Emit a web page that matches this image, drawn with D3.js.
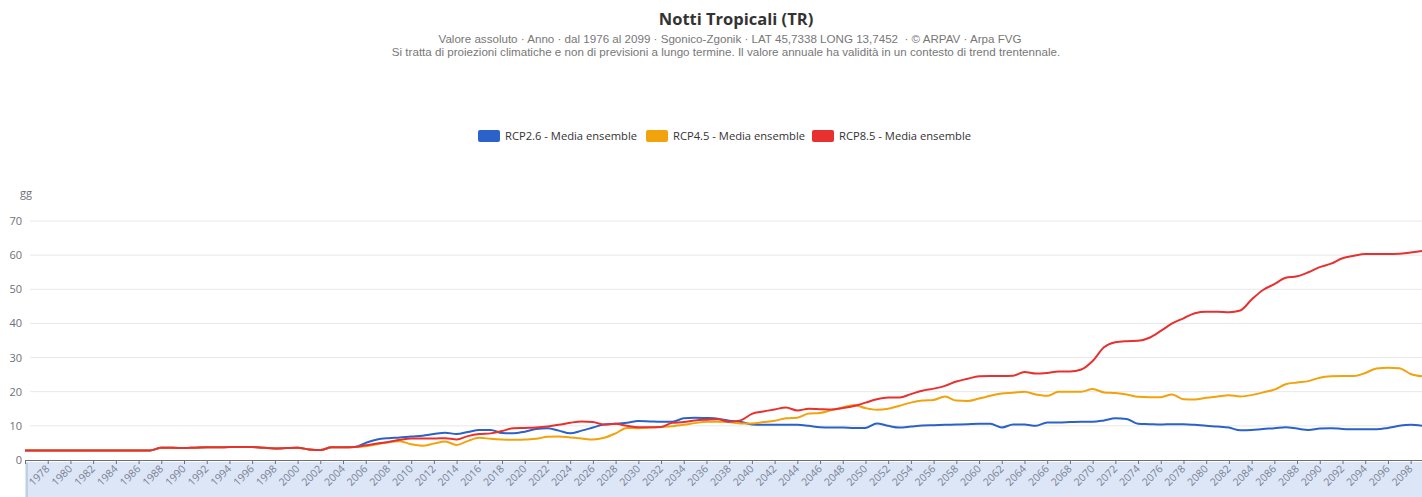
<!DOCTYPE html>
<html><head><meta charset="utf-8">
<script src="https://cdn.jsdelivr.net/npm/d3@7"></script>
<style>
html,body{margin:0;padding:0;background:#fff;}
svg{display:block;font-family:"Open Sans","Noto Sans",sans-serif;}
</style></head>
<body><svg id="c" width="1422" height="497"></svg>
<script>
const startYear = 1976, endYear = 2099;
const years = d3.range(startYear, endYear + 1);
const early = [2.8,2.8,2.8,2.8,2.8,2.8,2.8,2.8,2.8,2.8,2.8,2.8, // 1976-1987
  3.6,3.6,3.5,3.6,3.7,3.7,3.8,3.8,3.8,3.6,3.4,3.5,3.6,3.1,2.9,3.7,3.7,3.8]; // 1988-2005
const rcp26Late = [5.0,6.0,6.4,6.6,6.9,7.1,7.6,8.0,7.6,8.2,8.8,8.8,7.9,7.8,8.3,9.1,9.3,8.6,7.8,8.6, // 2006-2025
  9.5,10.4,10.6,10.9,11.4,11.3,11.2,11.2,12.2,12.4,12.3,12.1,11.5,11.2,10.4,10.3,10.3,10.3,10.3,10.0, // 2026-2045
  9.6,9.5,9.5,9.4,9.4,10.7,10.0,9.5,9.8,10.1,10.2,10.3,10.4,10.5,10.6,10.6,9.5,10.4,10.4,10.0, // 2046-2065
  11.0,11.0,11.1,11.2,11.2,11.6,12.2,12.0,10.6,10.5,10.4,10.5,10.5,10.3,10.0,9.8,9.5,8.7,8.8,9.1, // 2066-2085
  9.3,9.6,9.2,8.8,9.2,9.3,9.1,9.0,9.0,9.0,9.4,10.0,10.3,10.0]; // 2086-2099
const rcp45Late = [4.0,4.6,5.2,5.5,4.6,4.2,4.8,5.4,4.4,5.6,6.5,6.2,6.0,5.9,6.0,6.2,6.8,6.9,6.6,6.3, // 2006-2025
  6.0,6.5,7.8,9.4,9.3,9.5,9.7,9.9,10.3,10.8,11.2,11.2,11.1,10.7,10.7,11.1,11.5,12.2,12.4,13.6, // 2026-2045
  13.8,14.6,15.4,16.1,15.2,14.7,15.0,15.9,16.8,17.4,17.6,18.6,17.4,17.3,18.0,18.8,19.5,19.7,20.0,19.2, // 2046-2065
  18.8,20.0,20.0,20.0,20.8,19.8,19.6,19.2,18.5,18.4,18.4,19.2,17.8,17.7,18.2,18.6,19.0,18.6,19.0,19.8, // 2066-2085
  20.6,22.2,22.7,23.1,24.1,24.5,24.6,24.6,25.5,26.8,27.0,26.9,25.2,24.5]; // 2086-2099
const rcp85Late = [4.3,4.8,5.3,5.9,6.3,6.3,6.3,6.4,6.0,7.0,7.6,7.8,8.5,9.3,9.4,9.5,9.8,10.3,10.9,11.3, // 2006-2025
  11.1,10.4,10.6,10.0,9.6,9.6,9.7,10.9,11.1,11.6,11.8,11.9,11.2,11.6,13.5,14.2,14.8,15.4,14.5,15.0, // 2026-2045
  14.9,14.8,15.2,15.8,16.8,17.8,18.3,18.3,19.3,20.3,20.9,21.7,23.0,23.8,24.5,24.6,24.6,24.7,25.8,25.3, // 2046-2065
  25.5,25.9,25.9,26.5,29.0,33.0,34.5,34.8,34.9,35.8,37.8,40.0,41.5,43.0,43.4,43.4,43.3,43.8,47.0,49.8, // 2066-2085
  51.5,53.4,53.8,55.0,56.5,57.5,59.1,59.8,60.3,60.3,60.3,60.4,60.8,61.2]; // 2086-2099
const rcp26 = early.concat(rcp26Late);
const rcp45 = early.concat(rcp45Late);
const rcp85 = early.concat(rcp85Late);
const seriesNames = ["RCP2.6 - Media ensemble","RCP4.5 - Media ensemble","RCP8.5 - Media ensemble"];
const seriesColors = ["#2a62c9","#f2a20c","#e8312f"];
const seriesValues = [rcp26, rcp45, rcp85];
const yTicks = [0,10,20,30,40,50,60,70];
const titleText = "Notti Tropicali (TR)";
const subtitle1 = "Valore assoluto · Anno · dal 1976 al 2099 · Sgonico-Zgonik · LAT 45,7338 LONG 13,7452  · © ARPAV · Arpa FVG";
const subtitle2 = "Si tratta di proiezioni climatiche e non di previsioni a lungo termine. Il valore annuale ha validità in un contesto di trend trentennale.";
const yUnit = "gg";

const svg = d3.select("#c");
const W = 1422, H = 497;
svg.append("rect").attr("width", W).attr("height", H).attr("fill", "#fff");

const x = d3.scalePoint().domain(years).range([25, 1422]);
const y = d3.scaleLinear().domain([0, 70]).range([460, 221]);

// title
svg.append("text").attr("x", 736).attr("y", 25).attr("text-anchor", "middle")
  .attr("font-size", 16.5).attr("font-weight", "bold").attr("fill", "#333").text(titleText);
const subFont = "'Liberation Sans',Arial,sans-serif";
svg.append("text").attr("x", 730).attr("y", 42.5).attr("text-anchor", "middle")
  .attr("font-family", subFont).attr("font-size", 11.6).attr("fill", "#777").style("white-space","pre").text(subtitle1);
svg.append("text").attr("x", 726).attr("y", 55.5).attr("text-anchor", "middle")
  .attr("font-family", subFont).attr("font-size", 11.6).attr("fill", "#777").text(subtitle2);

// legend
const legendX = [478, 646, 812];
seriesNames.forEach((n, i) => {
  const g = svg.append("g").attr("transform", `translate(${legendX[i]},136)`);
  g.append("rect").attr("x", 0).attr("y", -6).attr("width", 22).attr("height", 12).attr("rx", 2).attr("fill", seriesColors[i]);
  g.append("text").attr("x", 27).attr("y", 0).attr("dy", "0.35em").attr("font-size", 11.2).attr("fill", "#333").text(n);
});

// grid + y labels
const yAxis = d3.axisLeft(y).tickValues(yTicks).tickSize(0).tickPadding(8);
const gy = svg.append("g").attr("transform", "translate(30,0)").call(yAxis);
gy.select(".domain").remove();
gy.selectAll("text").attr("font-size", 11).attr("fill", "#6e7079").attr("font-family", "'Open Sans','Noto Sans',sans-serif");
svg.append("g").selectAll("line").data(yTicks.filter(d => d > 0)).join("line")
  .attr("x1", 30).attr("x2", W).attr("y1", d => y(d)).attr("y2", d => y(d))
  .attr("stroke", "#e8e8e8").attr("stroke-width", 1);
svg.append("text").attr("x", 20).attr("y", 197).attr("font-size", 11).attr("fill", "#6e7079").text(yUnit);

// data zoom band
svg.append("rect").attr("x", 25).attr("y", 462).attr("width", W - 25).attr("height", H - 462)
  .attr("fill", "#dce6f7");
svg.append("line").attr("x1", 27).attr("x2", 27).attr("y1", 463).attr("y2", H)
  .attr("stroke", "#a7b7cc").attr("stroke-width", 1);

// x axis
const tickYears = years.filter(d => (d - startYear) % 2 === 0);
const xAxis = d3.axisBottom(x).tickValues(tickYears).tickSize(4).tickFormat("");
const gx = svg.append("g").attr("transform", "translate(0,460)").call(xAxis);
gx.select(".domain").attr("stroke", "#6e7079");
gx.selectAll(".tick line").attr("stroke", "#6e7079");
svg.append("g").selectAll("text").data(tickYears.filter(d => d > startYear)).join("text")
  .attr("transform", d => `translate(${x(d)},467) rotate(-45)`)
  .attr("text-anchor", "end").attr("dy", "0.35em")
  .attr("font-size", 10.5).attr("fill", "#7a8294").text(d => d);

// lines
const line = d3.line().x((d, i) => x(years[i])).y(d => y(d)).curve(d3.curveMonotoneX);
[0, 1, 2].forEach(i => {
  svg.append("path").datum(seriesValues[i]).attr("d", line)
    .attr("fill", "none").attr("stroke", seriesColors[i]).attr("stroke-width", 2)
    .attr("stroke-linejoin", "round");
});
</script></body></html>
